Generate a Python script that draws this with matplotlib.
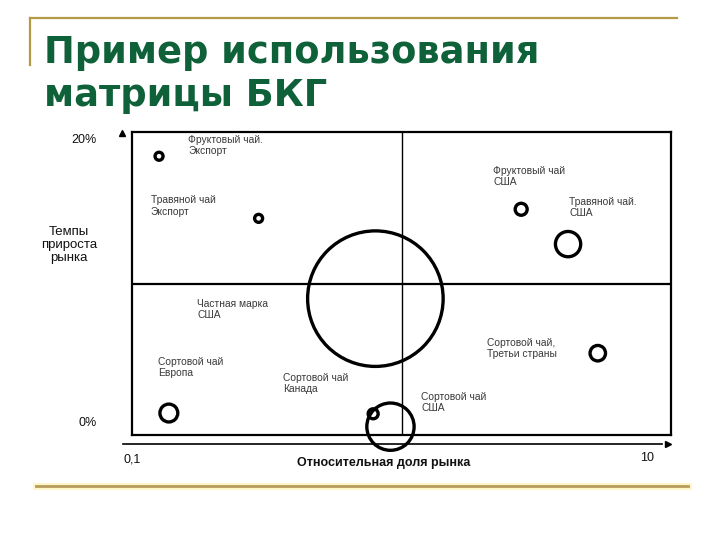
import matplotlib
matplotlib.use("Agg")
import matplotlib.pyplot as plt
from matplotlib.lines import Line2D
import numpy as np

plt.rcParams['font.family'] = ['Liberation Sans', 'DejaVu Sans']

# ---- data ----
products = ["Фруктовый чай.\nЭкспорт", "Травяной чай\nЭкспорт", "Фруктовый чай\nСША",
            "Травяной чай.\nСША", "Частная марка\nСША", "Сортовой чай\nЕвропа",
            "Сортовой чай\nКанада", "Сортовой чай\nСША", "Сортовой чай,\nТретьи страны"]
rel_share = [0.126, 0.295, 2.78, 4.15, 0.80, 0.137, 0.785, 0.91, 5.35]
growth = [18.4, 14.3, 14.9, 12.6, 9.0, 1.45, 1.4, 0.55, 5.4]
volume = [16, 16, 36, 160, 4600, 80, 25, 560, 60]
title_lines = ["Пример использования", "матрицы БКГ"]
y_ticks = ["20%", "0%"]
x_ticks = ["0,1", "10"]
x_label = "Относительная доля рынка"
y_label = "Темпы\nприроста\nрынка"

# label offsets in pixels (layout only)
label_off = [(29, 21), (-108, 23), (-28, 43), (1, 47), (-178, 0),
             (-11, 56), (-90, 41), (31, 35), (-111, 15)]

W, H = 720, 540
fig = plt.figure(figsize=(7.2, 5.4), dpi=100)

def fx(px):
    return px / W

def fy(py):
    return 1 - py / H

# decorative gold lines
gold = '#b49a45'
fig.add_artist(Line2D([fx(30), fx(677)], [fy(18), fy(18)], color=gold, lw=1.6))
fig.add_artist(Line2D([fx(30), fx(30)], [fy(18), fy(65)], color=gold, lw=1.6))
fig.add_artist(Line2D([fx(36), fx(688)], [fy(486), fy(486)], color='#fff6c8', lw=5))
fig.add_artist(Line2D([fx(36), fx(688)], [fy(486), fy(486)], color='#b89a5c', lw=2))

# title
for i, t in enumerate(title_lines):
    fig.text(fx(44), fy(63 + 43 * i), t, fontsize=26.5, fontweight='bold',
             color='#0e6139', family='DejaVu Sans', va='baseline', ha='left')

# axes
L, R, T, B = 132, 671, 132, 435
ax = fig.add_axes([fx(L), fy(B), (R - L) / W, (B - T) / H])
ax.set_xscale('log')
ax.set_xlim(0.1, 10)
ax.set_ylim(0, 20)
ax.set_xticks([])
ax.set_yticks([])
ax.minorticks_off()
for s in ax.spines.values():
    s.set_linewidth(1.6)
    s.set_color('black')
ax.axhline(10, color='black', lw=1.6)
ax.axvline(1, color='black', lw=1.0)

k = 2.07
ax.scatter(rel_share, growth, s=[k * v for v in volume], facecolors='none',
           edgecolors='black', linewidths=2.4, zorder=3, clip_on=False)

for name, x, y, (dx, dy) in zip(products, rel_share, growth, label_off):
    ax.annotate(name, (x, y), xytext=(dx, dy), textcoords='offset pixels',
                ha='left', va='top', fontsize=7.4, color='#3a3a3a',
                linespacing=1.15, zorder=4)

# x-axis arrow and y arrowhead
fig.add_artist(Line2D([fx(123), fx(662)], [fy(444), fy(444)], color='black', lw=1.2))
fig.add_artist(Line2D([fx(668)], [fy(444)], marker='>', color='black', markersize=5, lw=0))
fig.add_artist(Line2D([fx(122)], [fy(133)], marker='^', color='black', markersize=4, lw=0))

# tick/axis labels
fig.text(fx(97), fy(140), y_ticks[0], fontsize=9, ha='right', va='center', color='#111111')
fig.text(fx(97), fy(423), y_ticks[1], fontsize=9, ha='right', va='center', color='#111111')
fig.text(fx(123), fy(459), x_ticks[0], fontsize=9, ha='left', va='center', color='#111111')
fig.text(fx(654), fy(458), x_ticks[1], fontsize=9, ha='right', va='center', color='#111111')
fig.text(fx(384), fy(463), x_label, fontsize=9, ha='center', va='center',
         fontweight='bold', color='#111111')
fig.text(fx(69), fy(245), y_label, fontsize=9.5, ha='center', va='center',
         color='#111111', linespacing=1.1)

fig.savefig('out.png', dpi=100)
